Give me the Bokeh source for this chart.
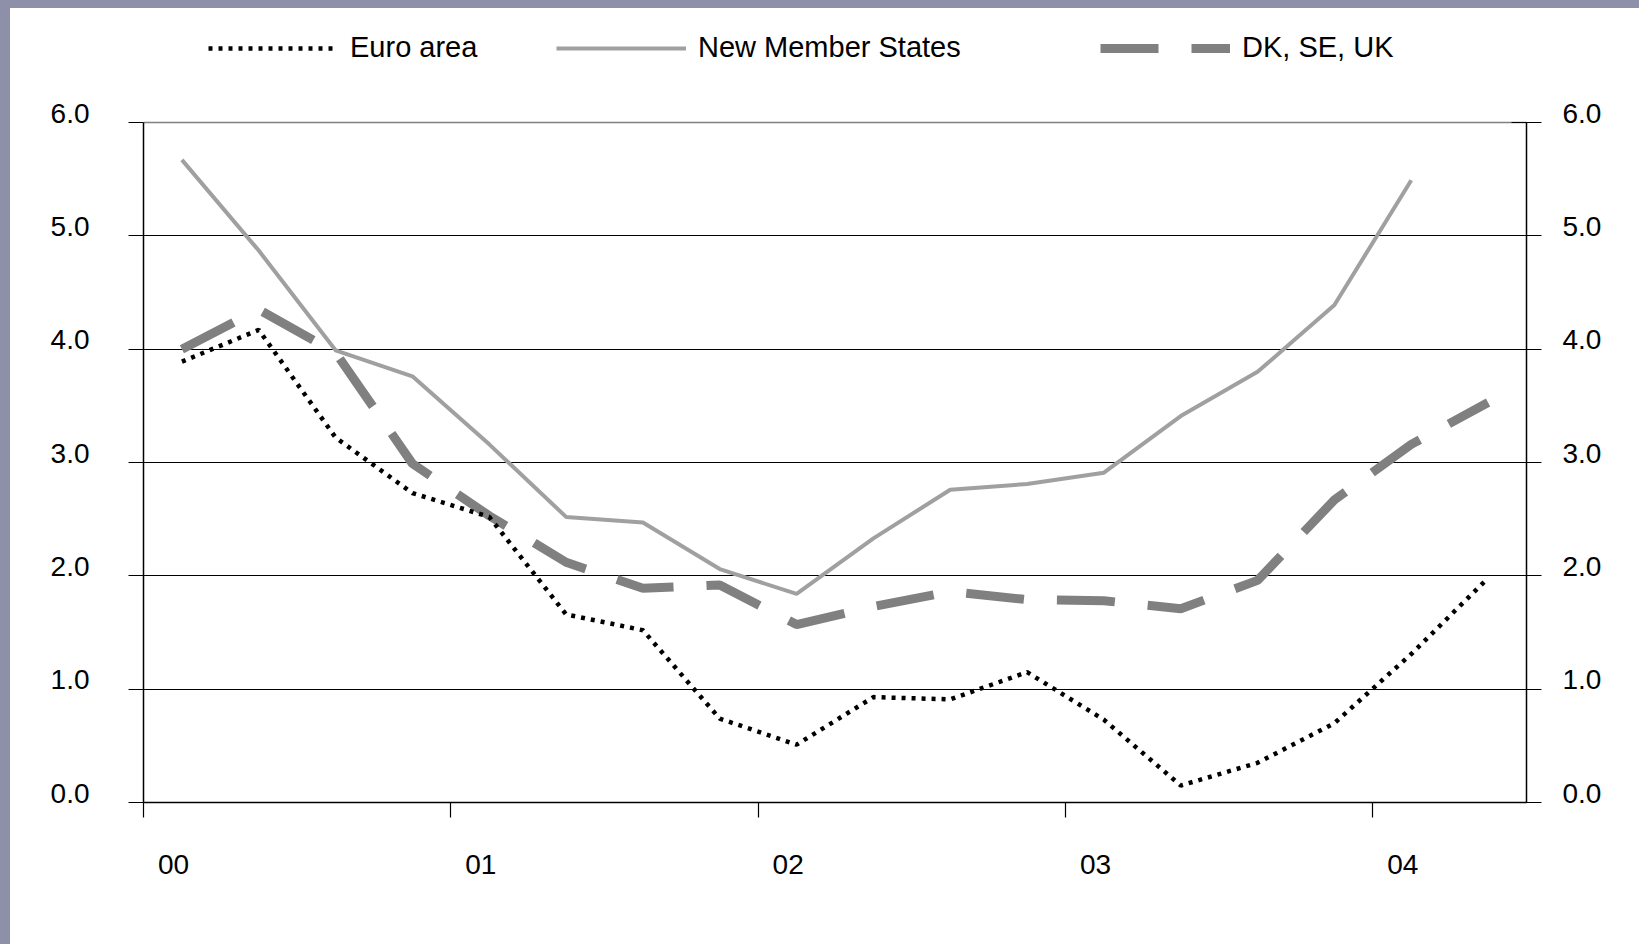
from bokeh.plotting import figure
from bokeh.models import (FixedTicker, LinearAxis, Legend, LegendItem, Grid,
                          Spacer, Range1d)
from bokeh.layouts import row, column
from bokeh.embed import file_html
from bokeh.resources import INLINE

# ---- data (quarterly, 2000Q1 .. 2004Q2) ----
quarters = ["2000Q1", "2000Q2", "2000Q3", "2000Q4",
            "2001Q1", "2001Q2", "2001Q3", "2001Q4",
            "2002Q1", "2002Q2", "2002Q3", "2002Q4",
            "2003Q1", "2003Q2", "2003Q3", "2003Q4",
            "2004Q1", "2004Q2"]
euro_area = [3.89, 4.17, 3.22, 2.73, 2.52, 1.66, 1.52, 0.74, 0.51,
             0.93, 0.91, 1.15, 0.73, 0.15, 0.35, 0.70, 1.31, 1.98]
new_member_states = [5.67, 4.87, 3.99, 3.76, 3.16, 2.52, 2.47, 2.06, 1.84,
                     2.33, 2.76, 2.81, 2.91, 3.41, 3.80, 4.39, 5.49]
dk_se_uk = [4.00, 4.35, 3.97, 2.99, 2.53, 2.12, 1.89, 1.92, 1.57,
            1.73, 1.86, 1.79, 1.78, 1.71, 1.96, 2.67, 3.16, 3.53]

year_ticks = [0, 1, 2, 3, 4]
year_labels = ["00", "01", "02", "03", "04"]
y_ticks = [0, 1, 2, 3, 4, 5, 6]
y_labels = ["0.0", "1.0", "2.0", "3.0", "4.0", "5.0", "6.0"]
grid_ticks = [1, 2, 3, 4, 5]


def qpos(q):
    # midpoint of a quarter, in years since 2000
    y, n = q.split("Q")
    return (int(y) - 2000) + (int(n) - 0.5) / 4.0


x_all = [qpos(q) for q in quarters]

FONT = "Liberation Sans"
STRIP = "#8e8fa8"

FIG_W, FIG_H = 1629, 936
BORDER_L, BORDER_R, BORDER_B = 133, 113, 142
PLOT_H = 680                       # pixels spanned by 0..6
X_END, Y_TOP = 4.5, 6.0
frame_h = FIG_H - BORDER_B         # frame reaches up to the top (room for legend)
frame_w = FIG_W - BORDER_L - BORDER_R
y_end = Y_TOP * frame_h / PLOT_H
px_y = PLOT_H / Y_TOP
px_x = frame_w / X_END

p = figure(width=FIG_W, height=FIG_H, x_range=Range1d(0, X_END), y_range=Range1d(0, y_end),
           output_backend="svg", toolbar_location=None,
           min_border_left=BORDER_L, min_border_right=BORDER_R,
           min_border_top=0, min_border_bottom=BORDER_B,
           background_fill_color="white", border_fill_color="white",
           outline_line_color=None)

# label-only ranges shifted by a few pixels
lab_dy = 9.5 / px_y
lab_dx = 30.0 / px_x
p.extra_y_ranges = {"ylab": Range1d(-lab_dy, y_end - lab_dy)}
p.extra_x_ranges = {"xlab": Range1d(-lab_dx, X_END - lab_dx)}

# grid
p.xgrid.visible = False
p.ygrid.ticker = FixedTicker(ticks=grid_ticks)
p.ygrid.grid_line_color = "black"
p.ygrid.grid_line_width = 1.2
p.add_layout(Grid(dimension=1, ticker=FixedTicker(ticks=[Y_TOP]),
                  grid_line_color="#808080", grid_line_width=1.5))


def tick_axis(ax, tin, tout):
    ax.axis_line_color = "black"
    ax.axis_line_width = 1.5
    ax.major_tick_line_color = "black"
    ax.major_tick_line_width = 1.2
    ax.major_tick_out = tout
    ax.major_tick_in = tin
    ax.minor_tick_line_color = None
    ax.major_label_text_color = None
    ax.major_label_text_font_size = "0px"
    ax.major_label_standoff = 0


def label_axis(ax, standoff):
    ax.axis_line_color = None
    ax.major_tick_line_color = None
    ax.minor_tick_line_color = None
    ax.major_tick_out = 0
    ax.major_tick_in = 0
    ax.major_label_standoff = standoff
    ax.major_label_text_font = FONT
    ax.major_label_text_font_size = "28px"
    ax.major_label_text_color = "black"


# x axis (ticks) + x labels
xa = p.xaxis[0]
xa.ticker = FixedTicker(ticks=year_ticks)
tick_axis(xa, 0, 15)
xl = LinearAxis(x_range_name="xlab", ticker=FixedTicker(ticks=year_ticks),
                major_label_overrides={t: s for t, s in zip(year_ticks, year_labels)})
label_axis(xl, 37)
p.add_layout(xl, "below")

# left y axis (ticks) + labels
ya = p.yaxis[0]
ya.ticker = FixedTicker(ticks=y_ticks)
ya.bounds = (0, Y_TOP)
tick_axis(ya, 0, 15)
yl = LinearAxis(y_range_name="ylab", ticker=FixedTicker(ticks=y_ticks),
                major_label_overrides={t: s for t, s in zip(y_ticks, y_labels)})
label_axis(yl, 39)
p.add_layout(yl, "left")

# right y axis (ticks) + labels
ra = LinearAxis(ticker=FixedTicker(ticks=y_ticks), bounds=(0, Y_TOP))
tick_axis(ra, 15, 15)
p.add_layout(ra, "right")
rl = LinearAxis(y_range_name="ylab", ticker=FixedTicker(ticks=y_ticks),
                major_label_overrides={t: s for t, s in zip(y_ticks, y_labels)})
label_axis(rl, 21)
p.add_layout(rl, "right")

# series
r_nms = p.line(x_all[:len(new_member_states)], new_member_states,
               line_color="#a0a0a0", line_width=4)
r_dk = p.line(x_all[:len(dk_se_uk)], dk_se_uk,
              line_color="#808080", line_width=9, line_dash="58 33")
r_euro = p.line(x_all[:len(euro_area)], euro_area,
                line_color="black", line_width=4.5, line_dash="4 6")

# legends (three separate entries along the top)
for r, lab, lx in [(r_euro, "Euro area", 65),
                   (r_nms, "New Member States", 413),
                   (r_dk, "DK, SE, UK", 957)]:
    lg = Legend(items=[LegendItem(label=lab, renderers=[r])], location=(lx, 738),
                orientation="horizontal", glyph_width=130, glyph_height=30,
                label_height=30, label_standoff=12, padding=0, margin=0, spacing=0,
                border_line_color=None, background_fill_alpha=0,
                label_text_font=FONT, label_text_font_size="29px",
                label_text_color="black")
    p.add_layout(lg)

left_strip = Spacer(width=10, height=944, styles={"background-color": STRIP})
top_strip = Spacer(width=FIG_W, height=8, styles={"background-color": STRIP})
layout = row(left_strip, column(top_strip, p, spacing=0), spacing=0)

open("out.html", "w").write(file_html(layout, INLINE))
